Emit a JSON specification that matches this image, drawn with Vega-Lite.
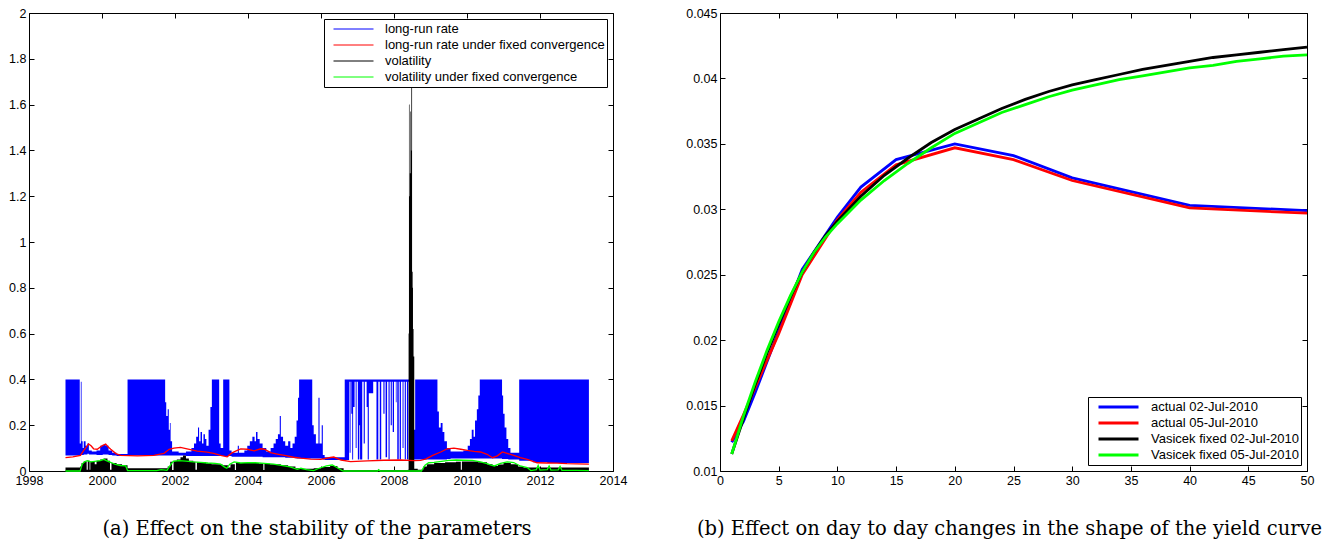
{
  "$schema": "https://vega.github.io/schema/vega-lite/v6.json",
  "background": "white",
  "padding": {"left": 8, "top": 6, "right": 4, "bottom": 0},
  "spacing": 57,
  "config": {
    "view": {"stroke": "black", "strokeWidth": 1},
    "axis": {"domain": false, "grid": false, "tickColor": "black", "tickSize": -5, "tickWidth": 1, "labelFont": "Liberation Sans", "labelFontSize": 12.5, "labelColor": "black", "labelPadding": 8, "labelFlush": false, "labelOverlap": false},
    "legend": {"strokeColor": "black", "fillColor": "white", "padding": 2, "symbolType": "stroke", "symbolSize": 1600, "symbolStrokeWidth": 1, "clipHeight": 16, "rowPadding": 0, "symbolOffset": 7, "labelOffset": 11, "labelFont": "Liberation Sans", "labelFontSize": 13, "labelColor": "black", "labelLimit": 500, "offset": 6}
  },
  "resolve": {"scale": {"color": "independent", "x": "independent", "y": "independent"}, "legend": {"color": "independent"}},
  "datasets": {
    "blue": [
      {"t": 1999.00, "lo": 0.068, "hi": 0.40}, {"t": 1999.39, "lo": 0.070, "hi": 0.12}, {"t": 1999.42, "lo": 0.070, "hi": 0.39}, {"t": 1999.44, "lo": 0.070, "hi": 0.13}, {"t": 1999.47, "lo": 0.070, "hi": 0.10}, {"t": 1999.50, "lo": 0.072, "hi": 0.13}, {"t": 1999.55, "lo": 0.072, "hi": 0.11}, {"t": 1999.60, "lo": 0.075, "hi": 0.12}, {"t": 1999.64, "lo": 0.072, "hi": 0.09}, {"t": 1999.72, "lo": 0.072, "hi": 0.085}, {"t": 1999.85, "lo": 0.070, "hi": 0.09}, {"t": 1999.95, "lo": 0.070, "hi": 0.11}, {"t": 2000.02, "lo": 0.072, "hi": 0.115}, {"t": 2000.10, "lo": 0.072, "hi": 0.11}, {"t": 2000.18, "lo": 0.070, "hi": 0.09}, {"t": 2000.28, "lo": 0.068, "hi": 0.08}, {"t": 2000.40, "lo": 0.066, "hi": 0.074},
      {"t": 2000.70, "lo": 0.068, "hi": 0.40}, {"t": 2001.73, "lo": 0.068, "hi": 0.30}, {"t": 2001.76, "lo": 0.068, "hi": 0.24}, {"t": 2001.80, "lo": 0.068, "hi": 0.27}, {"t": 2001.83, "lo": 0.068, "hi": 0.18}, {"t": 2001.86, "lo": 0.068, "hi": 0.21}, {"t": 2001.88, "lo": 0.068, "hi": 0.13}, {"t": 2001.92, "lo": 0.068, "hi": 0.085}, {"t": 2002.10, "lo": 0.068, "hi": 0.08}, {"t": 2002.30, "lo": 0.065, "hi": 0.085}, {"t": 2002.45, "lo": 0.065, "hi": 0.10}, {"t": 2002.52, "lo": 0.065, "hi": 0.12}, {"t": 2002.58, "lo": 0.065, "hi": 0.15}, {"t": 2002.63, "lo": 0.065, "hi": 0.19}, {"t": 2002.66, "lo": 0.065, "hi": 0.13}, {"t": 2002.70, "lo": 0.065, "hi": 0.17}, {"t": 2002.74, "lo": 0.065, "hi": 0.12}, {"t": 2002.78, "lo": 0.065, "hi": 0.16}, {"t": 2002.82, "lo": 0.065, "hi": 0.14}, {"t": 2002.86, "lo": 0.065, "hi": 0.11}, {"t": 2002.92, "lo": 0.065, "hi": 0.18}, {"t": 2002.97, "lo": 0.065, "hi": 0.28},
      {"t": 2003.01, "lo": 0.065, "hi": 0.40}, {"t": 2003.21, "lo": 0.065, "hi": 0.12}, {"t": 2003.25, "lo": 0.065, "hi": 0.10}, {"t": 2003.32, "lo": 0.065, "hi": 0.40}, {"t": 2003.49, "lo": 0.065, "hi": 0.09}, {"t": 2003.55, "lo": 0.062, "hi": 0.08}, {"t": 2003.72, "lo": 0.062, "hi": 0.11}, {"t": 2003.75, "lo": 0.062, "hi": 0.08}, {"t": 2003.90, "lo": 0.062, "hi": 0.09}, {"t": 2003.98, "lo": 0.062, "hi": 0.11}, {"t": 2004.05, "lo": 0.062, "hi": 0.13}, {"t": 2004.12, "lo": 0.062, "hi": 0.15}, {"t": 2004.18, "lo": 0.062, "hi": 0.13}, {"t": 2004.22, "lo": 0.062, "hi": 0.17}, {"t": 2004.26, "lo": 0.062, "hi": 0.14}, {"t": 2004.32, "lo": 0.062, "hi": 0.12}, {"t": 2004.40, "lo": 0.060, "hi": 0.10}, {"t": 2004.50, "lo": 0.060, "hi": 0.085}, {"t": 2004.62, "lo": 0.060, "hi": 0.10}, {"t": 2004.70, "lo": 0.060, "hi": 0.12}, {"t": 2004.76, "lo": 0.060, "hi": 0.14}, {"t": 2004.82, "lo": 0.060, "hi": 0.16}, {"t": 2004.87, "lo": 0.060, "hi": 0.24}, {"t": 2004.90, "lo": 0.060, "hi": 0.15}, {"t": 2004.96, "lo": 0.060, "hi": 0.13}, {"t": 2005.02, "lo": 0.058, "hi": 0.11}, {"t": 2005.10, "lo": 0.058, "hi": 0.13}, {"t": 2005.16, "lo": 0.058, "hi": 0.10}, {"t": 2005.22, "lo": 0.058, "hi": 0.12}, {"t": 2005.28, "lo": 0.056, "hi": 0.15}, {"t": 2005.33, "lo": 0.055, "hi": 0.22}, {"t": 2005.37, "lo": 0.055, "hi": 0.32},
      {"t": 2005.40, "lo": 0.055, "hi": 0.40}, {"t": 2005.76, "lo": 0.055, "hi": 0.20}, {"t": 2005.80, "lo": 0.055, "hi": 0.16}, {"t": 2005.86, "lo": 0.055, "hi": 0.12}, {"t": 2005.93, "lo": 0.055, "hi": 0.32}, {"t": 2005.96, "lo": 0.055, "hi": 0.12}, {"t": 2006.02, "lo": 0.052, "hi": 0.20}, {"t": 2006.05, "lo": 0.050, "hi": 0.07}, {"t": 2006.10, "lo": 0.048, "hi": 0.06},
      {"t": 2006.65, "lo": 0.048, "hi": 0.40}, {"t": 2006.77, "lo": 0.39, "hi": 0.40}, {"t": 2006.785, "lo": 0.08, "hi": 0.40}, {"t": 2006.81, "lo": 0.39, "hi": 0.40}, {"t": 2006.83, "lo": 0.25, "hi": 0.40}, {"t": 2006.855, "lo": 0.05, "hi": 0.40}, {"t": 2006.88, "lo": 0.28, "hi": 0.40}, {"t": 2006.92, "lo": 0.39, "hi": 0.40}, {"t": 2006.95, "lo": 0.10, "hi": 0.40}, {"t": 2006.975, "lo": 0.39, "hi": 0.40}, {"t": 2007.01, "lo": 0.05, "hi": 0.40}, {"t": 2007.05, "lo": 0.20, "hi": 0.40}, {"t": 2007.07, "lo": 0.05, "hi": 0.40}, {"t": 2007.13, "lo": 0.39, "hi": 0.40}, {"t": 2007.17, "lo": 0.12, "hi": 0.40}, {"t": 2007.20, "lo": 0.39, "hi": 0.40}, {"t": 2007.25, "lo": 0.28, "hi": 0.40}, {"t": 2007.28, "lo": 0.05, "hi": 0.40}, {"t": 2007.31, "lo": 0.34, "hi": 0.40}, {"t": 2007.43, "lo": 0.39, "hi": 0.40}, {"t": 2007.52, "lo": 0.05, "hi": 0.40}, {"t": 2007.57, "lo": 0.39, "hi": 0.40}, {"t": 2007.61, "lo": 0.05, "hi": 0.40}, {"t": 2007.65, "lo": 0.39, "hi": 0.40}, {"t": 2007.71, "lo": 0.25, "hi": 0.40}, {"t": 2007.74, "lo": 0.39, "hi": 0.40}, {"t": 2007.77, "lo": 0.06, "hi": 0.40}, {"t": 2007.81, "lo": 0.39, "hi": 0.40}, {"t": 2007.85, "lo": 0.05, "hi": 0.40}, {"t": 2007.88, "lo": 0.39, "hi": 0.40}, {"t": 2007.91, "lo": 0.20, "hi": 0.40}, {"t": 2007.94, "lo": 0.39, "hi": 0.40}, {"t": 2007.965, "lo": 0.17, "hi": 0.40}, {"t": 2008.00, "lo": 0.39, "hi": 0.40}, {"t": 2008.05, "lo": 0.30, "hi": 0.40}, {"t": 2008.07, "lo": 0.39, "hi": 0.40}, {"t": 2008.09, "lo": 0.05, "hi": 0.40}, {"t": 2008.13, "lo": 0.39, "hi": 0.40}, {"t": 2008.155, "lo": 0.05, "hi": 0.40}, {"t": 2008.19, "lo": 0.39, "hi": 0.40}, {"t": 2008.235, "lo": 0.10, "hi": 0.40}, {"t": 2008.26, "lo": 0.39, "hi": 0.40}, {"t": 2008.295, "lo": 0.05, "hi": 0.40}, {"t": 2008.325, "lo": 0.39, "hi": 0.40}, {"t": 2008.355, "lo": 0.05, "hi": 0.40}, {"t": 2008.39, "lo": 0.39, "hi": 0.40}, {"t": 2008.41, "lo": 0.05, "hi": 0.40}, {"t": 2008.43, "lo": 0.05, "hi": 0.18},
      {"t": 2008.58, "lo": 0.05, "hi": 0.40}, {"t": 2009.19, "lo": 0.05, "hi": 0.26}, {"t": 2009.23, "lo": 0.05, "hi": 0.19}, {"t": 2009.28, "lo": 0.05, "hi": 0.21}, {"t": 2009.33, "lo": 0.05, "hi": 0.17}, {"t": 2009.38, "lo": 0.05, "hi": 0.13}, {"t": 2009.45, "lo": 0.052, "hi": 0.10}, {"t": 2009.55, "lo": 0.055, "hi": 0.085}, {"t": 2009.90, "lo": 0.055, "hi": 0.09}, {"t": 2010.02, "lo": 0.055, "hi": 0.11}, {"t": 2010.08, "lo": 0.055, "hi": 0.14}, {"t": 2010.13, "lo": 0.055, "hi": 0.18}, {"t": 2010.18, "lo": 0.055, "hi": 0.15}, {"t": 2010.22, "lo": 0.055, "hi": 0.22}, {"t": 2010.27, "lo": 0.055, "hi": 0.27}, {"t": 2010.31, "lo": 0.055, "hi": 0.33},
      {"t": 2010.35, "lo": 0.055, "hi": 0.40}, {"t": 2010.96, "lo": 0.052, "hi": 0.33}, {"t": 2010.99, "lo": 0.052, "hi": 0.25}, {"t": 2011.03, "lo": 0.052, "hi": 0.19}, {"t": 2011.08, "lo": 0.052, "hi": 0.14}, {"t": 2011.13, "lo": 0.050, "hi": 0.10}, {"t": 2011.19, "lo": 0.050, "hi": 0.08},
      {"t": 2011.43, "lo": 0.045, "hi": 0.40}, {"t": 2011.80, "lo": 0.038, "hi": 0.40}, {"t": 2012.20, "lo": 0.035, "hi": 0.40}, {"t": 2013.34, "lo": 0.035, "hi": 0.40}
    ],
    "black": [
      {"t": 1999.00, "v": 0.015}, {"t": 1999.40, "v": 0.02}, {"t": 1999.44, "v": 0.035}, {"t": 1999.50, "v": 0.042}, {"t": 1999.58, "v": 0.005}, {"t": 1999.61, "v": 0.045}, {"t": 1999.66, "v": 0.005}, {"t": 1999.68, "v": 0.04}, {"t": 1999.80, "v": 0.03}, {"t": 1999.85, "v": 0.045}, {"t": 1999.95, "v": 0.05}, {"t": 2000.05, "v": 0.055}, {"t": 2000.15, "v": 0.045}, {"t": 2000.22, "v": 0.005}, {"t": 2000.26, "v": 0.035}, {"t": 2000.40, "v": 0.03}, {"t": 2000.55, "v": 0.025}, {"t": 2000.70, "v": 0.012},
      {"t": 2001.80, "v": 0.02}, {"t": 2001.87, "v": 0.04}, {"t": 2001.92, "v": 0.004}, {"t": 2001.96, "v": 0.045}, {"t": 2002.05, "v": 0.05}, {"t": 2002.15, "v": 0.06}, {"t": 2002.22, "v": 0.068}, {"t": 2002.30, "v": 0.055}, {"t": 2002.38, "v": 0.045}, {"t": 2002.50, "v": 0.04}, {"t": 2002.56, "v": 0.005}, {"t": 2002.60, "v": 0.038}, {"t": 2002.85, "v": 0.034}, {"t": 2003.00, "v": 0.03}, {"t": 2003.30, "v": 0.025}, {"t": 2003.45, "v": 0.015}, {"t": 2003.52, "v": 0.03}, {"t": 2003.64, "v": 0.004}, {"t": 2003.67, "v": 0.035}, {"t": 2004.00, "v": 0.035}, {"t": 2004.30, "v": 0.033}, {"t": 2004.42, "v": 0.004}, {"t": 2004.45, "v": 0.032}, {"t": 2004.60, "v": 0.03}, {"t": 2004.90, "v": 0.025}, {"t": 2005.10, "v": 0.02}, {"t": 2005.30, "v": 0.012}, {"t": 2005.50, "v": 0.01}, {"t": 2005.80, "v": 0.012}, {"t": 2006.00, "v": 0.018}, {"t": 2006.25, "v": 0.022}, {"t": 2006.45, "v": 0.012}, {"t": 2006.62, "v": 0.004},
      {"t": 2008.38, "v": 0.006}, {"t": 2008.40, "v": 0.60}, {"t": 2008.41, "v": 1.60}, {"t": 2008.425, "v": 1.20}, {"t": 2008.435, "v": 1.30}, {"t": 2008.45, "v": 1.57}, {"t": 2008.465, "v": 1.40}, {"t": 2008.475, "v": 1.75}, {"t": 2008.495, "v": 0.87}, {"t": 2008.51, "v": 0.80}, {"t": 2008.52, "v": 0.62}, {"t": 2008.535, "v": 0.5}, {"t": 2008.555, "v": 0.01},
      {"t": 2008.65, "v": 0.005}, {"t": 2008.80, "v": 0.02}, {"t": 2008.90, "v": 0.03}, {"t": 2009.10, "v": 0.035}, {"t": 2009.40, "v": 0.038}, {"t": 2009.70, "v": 0.04}, {"t": 2009.83, "v": 0.005}, {"t": 2009.86, "v": 0.042}, {"t": 2010.00, "v": 0.042}, {"t": 2010.30, "v": 0.038}, {"t": 2010.55, "v": 0.03}, {"t": 2010.70, "v": 0.022}, {"t": 2010.85, "v": 0.028}, {"t": 2011.00, "v": 0.035}, {"t": 2011.20, "v": 0.03}, {"t": 2011.40, "v": 0.02}, {"t": 2011.55, "v": 0.015}, {"t": 2013.34, "v": 0.015}
    ],
    "fixed": [
      {"series": "long-run rate under fixed convergence", "t": 1999.00, "v": 0.058}, {"series": "long-run rate under fixed convergence", "t": 1999.20, "v": 0.062}, {"series": "long-run rate under fixed convergence", "t": 1999.41, "v": 0.068}, {"series": "long-run rate under fixed convergence", "t": 1999.50, "v": 0.09}, {"series": "long-run rate under fixed convergence", "t": 1999.55, "v": 0.10}, {"series": "long-run rate under fixed convergence", "t": 1999.63, "v": 0.118}, {"series": "long-run rate under fixed convergence", "t": 1999.70, "v": 0.11}, {"series": "long-run rate under fixed convergence", "t": 1999.77, "v": 0.097}, {"series": "long-run rate under fixed convergence", "t": 1999.87, "v": 0.095}, {"series": "long-run rate under fixed convergence", "t": 2000.00, "v": 0.11}, {"series": "long-run rate under fixed convergence", "t": 2000.10, "v": 0.118}, {"series": "long-run rate under fixed convergence", "t": 2000.17, "v": 0.105}, {"series": "long-run rate under fixed convergence", "t": 2000.24, "v": 0.095}, {"series": "long-run rate under fixed convergence", "t": 2000.38, "v": 0.076}, {"series": "long-run rate under fixed convergence", "t": 2000.51, "v": 0.068}, {"series": "long-run rate under fixed convergence", "t": 2000.97, "v": 0.066}, {"series": "long-run rate under fixed convergence", "t": 2001.42, "v": 0.068}, {"series": "long-run rate under fixed convergence", "t": 2001.70, "v": 0.077}, {"series": "long-run rate under fixed convergence", "t": 2001.84, "v": 0.095}, {"series": "long-run rate under fixed convergence", "t": 2001.97, "v": 0.10}, {"series": "long-run rate under fixed convergence", "t": 2002.15, "v": 0.103}, {"series": "long-run rate under fixed convergence", "t": 2002.33, "v": 0.097}, {"series": "long-run rate under fixed convergence", "t": 2002.61, "v": 0.087}, {"series": "long-run rate under fixed convergence", "t": 2002.88, "v": 0.082}, {"series": "long-run rate under fixed convergence", "t": 2003.06, "v": 0.077}, {"series": "long-run rate under fixed convergence", "t": 2003.25, "v": 0.068}, {"series": "long-run rate under fixed convergence", "t": 2003.43, "v": 0.062}, {"series": "long-run rate under fixed convergence", "t": 2003.55, "v": 0.078}, {"series": "long-run rate under fixed convergence", "t": 2003.66, "v": 0.087}, {"series": "long-run rate under fixed convergence", "t": 2003.80, "v": 0.097}, {"series": "long-run rate under fixed convergence", "t": 2003.98, "v": 0.095}, {"series": "long-run rate under fixed convergence", "t": 2004.17, "v": 0.088}, {"series": "long-run rate under fixed convergence", "t": 2004.35, "v": 0.097}, {"series": "long-run rate under fixed convergence", "t": 2004.45, "v": 0.095}, {"series": "long-run rate under fixed convergence", "t": 2004.62, "v": 0.08}, {"series": "long-run rate under fixed convergence", "t": 2004.80, "v": 0.074}, {"series": "long-run rate under fixed convergence", "t": 2005.00, "v": 0.068}, {"series": "long-run rate under fixed convergence", "t": 2005.25, "v": 0.060}, {"series": "long-run rate under fixed convergence", "t": 2005.45, "v": 0.056}, {"series": "long-run rate under fixed convergence", "t": 2005.72, "v": 0.052}, {"series": "long-run rate under fixed convergence", "t": 2005.99, "v": 0.051}, {"series": "long-run rate under fixed convergence", "t": 2006.26, "v": 0.059}, {"series": "long-run rate under fixed convergence", "t": 2006.35, "v": 0.061}, {"series": "long-run rate under fixed convergence", "t": 2006.55, "v": 0.048}, {"series": "long-run rate under fixed convergence", "t": 2006.81, "v": 0.041}, {"series": "long-run rate under fixed convergence", "t": 2007.27, "v": 0.044}, {"series": "long-run rate under fixed convergence", "t": 2007.72, "v": 0.047}, {"series": "long-run rate under fixed convergence", "t": 2008.18, "v": 0.048}, {"series": "long-run rate under fixed convergence", "t": 2008.55, "v": 0.045}, {"series": "long-run rate under fixed convergence", "t": 2008.73, "v": 0.046}, {"series": "long-run rate under fixed convergence", "t": 2008.88, "v": 0.053}, {"series": "long-run rate under fixed convergence", "t": 2009.06, "v": 0.068}, {"series": "long-run rate under fixed convergence", "t": 2009.28, "v": 0.083}, {"series": "long-run rate under fixed convergence", "t": 2009.46, "v": 0.097}, {"series": "long-run rate under fixed convergence", "t": 2009.64, "v": 0.10}, {"series": "long-run rate under fixed convergence", "t": 2009.83, "v": 0.095}, {"series": "long-run rate under fixed convergence", "t": 2010.01, "v": 0.09}, {"series": "long-run rate under fixed convergence", "t": 2010.19, "v": 0.086}, {"series": "long-run rate under fixed convergence", "t": 2010.37, "v": 0.083}, {"series": "long-run rate under fixed convergence", "t": 2010.55, "v": 0.073}, {"series": "long-run rate under fixed convergence", "t": 2010.70, "v": 0.058}, {"series": "long-run rate under fixed convergence", "t": 2010.83, "v": 0.066}, {"series": "long-run rate under fixed convergence", "t": 2010.97, "v": 0.083}, {"series": "long-run rate under fixed convergence", "t": 2011.10, "v": 0.077}, {"series": "long-run rate under fixed convergence", "t": 2011.28, "v": 0.068}, {"series": "long-run rate under fixed convergence", "t": 2011.46, "v": 0.058}, {"series": "long-run rate under fixed convergence", "t": 2011.65, "v": 0.051}, {"series": "long-run rate under fixed convergence", "t": 2011.92, "v": 0.036}, {"series": "long-run rate under fixed convergence", "t": 2012.19, "v": 0.035}, {"series": "long-run rate under fixed convergence", "t": 2012.47, "v": 0.034}, {"series": "long-run rate under fixed convergence", "t": 2012.74, "v": 0.032}, {"series": "long-run rate under fixed convergence", "t": 2013.02, "v": 0.031}, {"series": "long-run rate under fixed convergence", "t": 2013.34, "v": 0.030},
      {"series": "volatility under fixed convergence", "t": 1999.00, "v": 0.0}, {"series": "volatility under fixed convergence", "t": 1999.40, "v": 0.0}, {"series": "volatility under fixed convergence", "t": 1999.46, "v": 0.03}, {"series": "volatility under fixed convergence", "t": 1999.52, "v": 0.04}, {"series": "volatility under fixed convergence", "t": 1999.60, "v": 0.045}, {"series": "volatility under fixed convergence", "t": 1999.70, "v": 0.04}, {"series": "volatility under fixed convergence", "t": 1999.80, "v": 0.042}, {"series": "volatility under fixed convergence", "t": 1999.95, "v": 0.045}, {"series": "volatility under fixed convergence", "t": 2000.05, "v": 0.051}, {"series": "volatility under fixed convergence", "t": 2000.12, "v": 0.045}, {"series": "volatility under fixed convergence", "t": 2000.25, "v": 0.037}, {"series": "volatility under fixed convergence", "t": 2000.35, "v": 0.03}, {"series": "volatility under fixed convergence", "t": 2000.50, "v": 0.024}, {"series": "volatility under fixed convergence", "t": 2000.65, "v": 0.022}, {"series": "volatility under fixed convergence", "t": 2000.70, "v": 0.002}, {"series": "volatility under fixed convergence", "t": 2001.50, "v": 0.002}, {"series": "volatility under fixed convergence", "t": 2001.62, "v": 0.006}, {"series": "volatility under fixed convergence", "t": 2001.78, "v": 0.003}, {"series": "volatility under fixed convergence", "t": 2001.85, "v": 0.02}, {"series": "volatility under fixed convergence", "t": 2001.95, "v": 0.042}, {"series": "volatility under fixed convergence", "t": 2002.10, "v": 0.045}, {"series": "volatility under fixed convergence", "t": 2002.30, "v": 0.043}, {"series": "volatility under fixed convergence", "t": 2002.50, "v": 0.04}, {"series": "volatility under fixed convergence", "t": 2002.70, "v": 0.038}, {"series": "volatility under fixed convergence", "t": 2002.90, "v": 0.035}, {"series": "volatility under fixed convergence", "t": 2003.10, "v": 0.033}, {"series": "volatility under fixed convergence", "t": 2003.25, "v": 0.03}, {"series": "volatility under fixed convergence", "t": 2003.35, "v": 0.018}, {"series": "volatility under fixed convergence", "t": 2003.42, "v": 0.012}, {"series": "volatility under fixed convergence", "t": 2003.50, "v": 0.03}, {"series": "volatility under fixed convergence", "t": 2003.62, "v": 0.04}, {"series": "volatility under fixed convergence", "t": 2003.80, "v": 0.035}, {"series": "volatility under fixed convergence", "t": 2004.00, "v": 0.037}, {"series": "volatility under fixed convergence", "t": 2004.20, "v": 0.036}, {"series": "volatility under fixed convergence", "t": 2004.45, "v": 0.033}, {"series": "volatility under fixed convergence", "t": 2004.70, "v": 0.03}, {"series": "volatility under fixed convergence", "t": 2004.99, "v": 0.022}, {"series": "volatility under fixed convergence", "t": 2005.15, "v": 0.018}, {"series": "volatility under fixed convergence", "t": 2005.35, "v": 0.007}, {"series": "volatility under fixed convergence", "t": 2005.45, "v": 0.012}, {"series": "volatility under fixed convergence", "t": 2005.60, "v": 0.006}, {"series": "volatility under fixed convergence", "t": 2005.80, "v": 0.002}, {"series": "volatility under fixed convergence", "t": 2005.95, "v": 0.012}, {"series": "volatility under fixed convergence", "t": 2006.15, "v": 0.022}, {"series": "volatility under fixed convergence", "t": 2006.31, "v": 0.026}, {"series": "volatility under fixed convergence", "t": 2006.45, "v": 0.014}, {"series": "volatility under fixed convergence", "t": 2006.58, "v": 0.002}, {"series": "volatility under fixed convergence", "t": 2006.62, "v": 0.0}, {"series": "volatility under fixed convergence", "t": 2007.55, "v": 0.0}, {"series": "volatility under fixed convergence", "t": 2007.58, "v": 0.006}, {"series": "volatility under fixed convergence", "t": 2007.62, "v": 0.0}, {"series": "volatility under fixed convergence", "t": 2008.75, "v": 0.0}, {"series": "volatility under fixed convergence", "t": 2008.85, "v": 0.025}, {"series": "volatility under fixed convergence", "t": 2008.95, "v": 0.036}, {"series": "volatility under fixed convergence", "t": 2009.10, "v": 0.038}, {"series": "volatility under fixed convergence", "t": 2009.30, "v": 0.042}, {"series": "volatility under fixed convergence", "t": 2009.50, "v": 0.046}, {"series": "volatility under fixed convergence", "t": 2009.70, "v": 0.048}, {"series": "volatility under fixed convergence", "t": 2009.90, "v": 0.047}, {"series": "volatility under fixed convergence", "t": 2010.15, "v": 0.046}, {"series": "volatility under fixed convergence", "t": 2010.37, "v": 0.04}, {"series": "volatility under fixed convergence", "t": 2010.55, "v": 0.032}, {"series": "volatility under fixed convergence", "t": 2010.64, "v": 0.027}, {"series": "volatility under fixed convergence", "t": 2010.75, "v": 0.022}, {"series": "volatility under fixed convergence", "t": 2010.92, "v": 0.033}, {"series": "volatility under fixed convergence", "t": 2011.10, "v": 0.04}, {"series": "volatility under fixed convergence", "t": 2011.28, "v": 0.037}, {"series": "volatility under fixed convergence", "t": 2011.46, "v": 0.022}, {"series": "volatility under fixed convergence", "t": 2011.65, "v": 0.015}, {"series": "volatility under fixed convergence", "t": 2011.75, "v": 0.002}, {"series": "volatility under fixed convergence", "t": 2011.90, "v": 0.006}, {"series": "volatility under fixed convergence", "t": 2011.95, "v": 0.024}, {"series": "volatility under fixed convergence", "t": 2012.00, "v": 0.004}, {"series": "volatility under fixed convergence", "t": 2012.20, "v": 0.006}, {"series": "volatility under fixed convergence", "t": 2012.25, "v": 0.022}, {"series": "volatility under fixed convergence", "t": 2012.30, "v": 0.004}, {"series": "volatility under fixed convergence", "t": 2012.50, "v": 0.005}, {"series": "volatility under fixed convergence", "t": 2012.55, "v": 0.02}, {"series": "volatility under fixed convergence", "t": 2012.60, "v": 0.003}, {"series": "volatility under fixed convergence", "t": 2013.00, "v": 0.003}, {"series": "volatility under fixed convergence", "t": 2013.34, "v": 0.002}
    ],
    "curves": [
      {"series": "actual 02-Jul-2010", "m": 1, "v": 0.0122}, {"series": "actual 02-Jul-2010", "m": 2, "v": 0.0138}, {"series": "actual 02-Jul-2010", "m": 3, "v": 0.0160}, {"series": "actual 02-Jul-2010", "m": 5, "v": 0.0207}, {"series": "actual 02-Jul-2010", "m": 7, "v": 0.0254}, {"series": "actual 02-Jul-2010", "m": 10, "v": 0.0294}, {"series": "actual 02-Jul-2010", "m": 12, "v": 0.0317}, {"series": "actual 02-Jul-2010", "m": 15, "v": 0.0338}, {"series": "actual 02-Jul-2010", "m": 20, "v": 0.0350}, {"series": "actual 02-Jul-2010", "m": 25, "v": 0.0341}, {"series": "actual 02-Jul-2010", "m": 30, "v": 0.0324}, {"series": "actual 02-Jul-2010", "m": 40, "v": 0.0303}, {"series": "actual 02-Jul-2010", "m": 50, "v": 0.0299},
      {"series": "actual 05-Jul-2010", "m": 1, "v": 0.0123}, {"series": "actual 05-Jul-2010", "m": 2, "v": 0.0143}, {"series": "actual 05-Jul-2010", "m": 3, "v": 0.0164}, {"series": "actual 05-Jul-2010", "m": 5, "v": 0.0205}, {"series": "actual 05-Jul-2010", "m": 7, "v": 0.0250}, {"series": "actual 05-Jul-2010", "m": 10, "v": 0.0292}, {"series": "actual 05-Jul-2010", "m": 12, "v": 0.0313}, {"series": "actual 05-Jul-2010", "m": 15, "v": 0.0334}, {"series": "actual 05-Jul-2010", "m": 20, "v": 0.0347}, {"series": "actual 05-Jul-2010", "m": 25, "v": 0.0338}, {"series": "actual 05-Jul-2010", "m": 30, "v": 0.0322}, {"series": "actual 05-Jul-2010", "m": 40, "v": 0.0301}, {"series": "actual 05-Jul-2010", "m": 50, "v": 0.0297},
      {"series": "Vasicek fixed 02-Jul-2010", "m": 1, "v": 0.0113}, {"series": "Vasicek fixed 02-Jul-2010", "m": 2, "v": 0.0140}, {"series": "Vasicek fixed 02-Jul-2010", "m": 3, "v": 0.0166}, {"series": "Vasicek fixed 02-Jul-2010", "m": 4, "v": 0.0190}, {"series": "Vasicek fixed 02-Jul-2010", "m": 5, "v": 0.0212}, {"series": "Vasicek fixed 02-Jul-2010", "m": 6, "v": 0.0233}, {"series": "Vasicek fixed 02-Jul-2010", "m": 7, "v": 0.0252}, {"series": "Vasicek fixed 02-Jul-2010", "m": 8, "v": 0.0267}, {"series": "Vasicek fixed 02-Jul-2010", "m": 9, "v": 0.0280}, {"series": "Vasicek fixed 02-Jul-2010", "m": 10, "v": 0.0291}, {"series": "Vasicek fixed 02-Jul-2010", "m": 12, "v": 0.0310}, {"series": "Vasicek fixed 02-Jul-2010", "m": 14, "v": 0.0326}, {"series": "Vasicek fixed 02-Jul-2010", "m": 16, "v": 0.0339}, {"series": "Vasicek fixed 02-Jul-2010", "m": 18, "v": 0.0351}, {"series": "Vasicek fixed 02-Jul-2010", "m": 20, "v": 0.0361}, {"series": "Vasicek fixed 02-Jul-2010", "m": 22, "v": 0.0369}, {"series": "Vasicek fixed 02-Jul-2010", "m": 24, "v": 0.0377}, {"series": "Vasicek fixed 02-Jul-2010", "m": 26, "v": 0.0384}, {"series": "Vasicek fixed 02-Jul-2010", "m": 28, "v": 0.0390}, {"series": "Vasicek fixed 02-Jul-2010", "m": 30, "v": 0.0395}, {"series": "Vasicek fixed 02-Jul-2010", "m": 32, "v": 0.0399}, {"series": "Vasicek fixed 02-Jul-2010", "m": 34, "v": 0.0403}, {"series": "Vasicek fixed 02-Jul-2010", "m": 36, "v": 0.0407}, {"series": "Vasicek fixed 02-Jul-2010", "m": 38, "v": 0.0410}, {"series": "Vasicek fixed 02-Jul-2010", "m": 40, "v": 0.0413}, {"series": "Vasicek fixed 02-Jul-2010", "m": 42, "v": 0.0416}, {"series": "Vasicek fixed 02-Jul-2010", "m": 44, "v": 0.0418}, {"series": "Vasicek fixed 02-Jul-2010", "m": 46, "v": 0.0420}, {"series": "Vasicek fixed 02-Jul-2010", "m": 48, "v": 0.0422}, {"series": "Vasicek fixed 02-Jul-2010", "m": 50, "v": 0.0424},
      {"series": "Vasicek fixed 05-Jul-2010", "m": 1, "v": 0.0113}, {"series": "Vasicek fixed 05-Jul-2010", "m": 2, "v": 0.0142}, {"series": "Vasicek fixed 05-Jul-2010", "m": 3, "v": 0.0168}, {"series": "Vasicek fixed 05-Jul-2010", "m": 4, "v": 0.0192}, {"series": "Vasicek fixed 05-Jul-2010", "m": 5, "v": 0.0214}, {"series": "Vasicek fixed 05-Jul-2010", "m": 6, "v": 0.0234}, {"series": "Vasicek fixed 05-Jul-2010", "m": 7, "v": 0.0252}, {"series": "Vasicek fixed 05-Jul-2010", "m": 8, "v": 0.0267}, {"series": "Vasicek fixed 05-Jul-2010", "m": 9, "v": 0.0279}, {"series": "Vasicek fixed 05-Jul-2010", "m": 10, "v": 0.0289}, {"series": "Vasicek fixed 05-Jul-2010", "m": 12, "v": 0.0307}, {"series": "Vasicek fixed 05-Jul-2010", "m": 14, "v": 0.0322}, {"series": "Vasicek fixed 05-Jul-2010", "m": 16, "v": 0.0335}, {"series": "Vasicek fixed 05-Jul-2010", "m": 18, "v": 0.0347}, {"series": "Vasicek fixed 05-Jul-2010", "m": 20, "v": 0.0358}, {"series": "Vasicek fixed 05-Jul-2010", "m": 22, "v": 0.0366}, {"series": "Vasicek fixed 05-Jul-2010", "m": 24, "v": 0.0374}, {"series": "Vasicek fixed 05-Jul-2010", "m": 26, "v": 0.0380}, {"series": "Vasicek fixed 05-Jul-2010", "m": 28, "v": 0.0386}, {"series": "Vasicek fixed 05-Jul-2010", "m": 30, "v": 0.0391}, {"series": "Vasicek fixed 05-Jul-2010", "m": 32, "v": 0.0395}, {"series": "Vasicek fixed 05-Jul-2010", "m": 34, "v": 0.0399}, {"series": "Vasicek fixed 05-Jul-2010", "m": 36, "v": 0.0402}, {"series": "Vasicek fixed 05-Jul-2010", "m": 38, "v": 0.0405}, {"series": "Vasicek fixed 05-Jul-2010", "m": 40, "v": 0.0408}, {"series": "Vasicek fixed 05-Jul-2010", "m": 42, "v": 0.0410}, {"series": "Vasicek fixed 05-Jul-2010", "m": 44, "v": 0.0413}, {"series": "Vasicek fixed 05-Jul-2010", "m": 46, "v": 0.0415}, {"series": "Vasicek fixed 05-Jul-2010", "m": 48, "v": 0.0417}, {"series": "Vasicek fixed 05-Jul-2010", "m": 50, "v": 0.0418}
    ]
  },
  "hconcat": [
    {
      "width": 584,
      "height": 458,
      "title": {"text": "(a) Effect on the stability of the parameters", "orient": "bottom", "anchor": "middle", "frame": "group", "font": "DejaVu Serif", "fontSize": 19.5, "fontWeight": "normal", "color": "black", "offset": 33, "dx": -4},
      "layer": [
        {
          "data": {"name": "blue"},
          "mark": {"type": "area", "color": "#0000ff", "interpolate": "step-after"},
          "encoding": {
            "x": {"field": "t", "type": "quantitative", "scale": {"domain": [1998, 2014], "nice": false, "zero": false}, "axis": {"orient": "bottom", "values": [1998, 2000, 2002, 2004, 2006, 2008, 2010, 2012, 2014], "format": "d", "title": null}},
            "y": {"field": "hi", "type": "quantitative", "scale": {"domain": [0, 2], "nice": false}, "axis": {"orient": "left", "values": [0, 0.2, 0.4, 0.6, 0.8, 1, 1.2, 1.4, 1.6, 1.8, 2], "format": "~g", "title": null}},
            "y2": {"field": "lo"}
          }
        },
        {
          "data": {"name": "black"},
          "mark": {"type": "area", "color": "#000000", "interpolate": "step-after"},
          "encoding": {
            "x": {"field": "t", "type": "quantitative", "axis": {"orient": "top", "values": [1998, 2000, 2002, 2004, 2006, 2008, 2010, 2012, 2014], "labels": false, "title": null}},
            "y": {"field": "v", "type": "quantitative", "axis": {"orient": "right", "values": [0, 0.2, 0.4, 0.6, 0.8, 1, 1.2, 1.4, 1.6, 1.8, 2], "labels": false, "title": null}},
            "y2": {"datum": 0}
          }
        },
        {
          "data": {"name": "fixed"},
          "mark": {"type": "line", "strokeWidth": 1.3},
          "encoding": {
            "x": {"field": "t", "type": "quantitative", "axis": null},
            "y": {"field": "v", "type": "quantitative", "axis": null},
            "color": {"field": "series", "type": "nominal", "scale": {"domain": ["long-run rate", "long-run rate under fixed convergence", "volatility", "volatility under fixed convergence"], "range": ["#0000ff", "#ff0000", "#000000", "#00ff00"]}, "legend": {"orient": "top-right", "title": null, "symbolStrokeWidth": 1}}
          }
        }
      ],
      "resolve": {"axis": {"x": "independent", "y": "independent"}}
    },
    {
      "width": 587,
      "height": 458,
      "title": {"text": "(b) Effect on day to day changes in the shape of the yield curve", "orient": "bottom", "anchor": "middle", "frame": "group", "font": "DejaVu Serif", "fontSize": 19.5, "fontWeight": "normal", "color": "black", "offset": 33, "dx": -4},
      "layer": [
        {
          "data": {"name": "curves"},
          "mark": {"type": "line", "strokeWidth": 2.8},
          "encoding": {
            "x": {"field": "m", "type": "quantitative", "scale": {"domain": [0, 50], "nice": false}, "axis": {"orient": "bottom", "values": [0, 5, 10, 15, 20, 25, 30, 35, 40, 45, 50], "title": null}},
            "y": {"field": "v", "type": "quantitative", "scale": {"domain": [0.01, 0.045], "nice": false, "zero": false}, "axis": {"orient": "left", "values": [0.01, 0.015, 0.02, 0.025, 0.03, 0.035, 0.04, 0.045], "format": "~g", "title": null}},
            "color": {"field": "series", "type": "nominal", "scale": {"domain": ["actual 02-Jul-2010", "actual 05-Jul-2010", "Vasicek fixed 02-Jul-2010", "Vasicek fixed 05-Jul-2010"], "range": ["#0000ff", "#ff0000", "#000000", "#00ff00"]}, "legend": {"orient": "bottom-right", "title": null, "symbolStrokeWidth": 3}}
          }
        },
        {
          "data": {"name": "curves"},
          "mark": {"type": "line", "opacity": 0},
          "encoding": {
            "x": {"field": "m", "type": "quantitative", "axis": {"orient": "top", "values": [0, 5, 10, 15, 20, 25, 30, 35, 40, 45, 50], "labels": false, "title": null}},
            "y": {"field": "v", "type": "quantitative", "axis": {"orient": "right", "values": [0.01, 0.015, 0.02, 0.025, 0.03, 0.035, 0.04, 0.045], "labels": false, "title": null}},
            "detail": {"field": "series"}
          }
        }
      ],
      "resolve": {"axis": {"x": "independent", "y": "independent"}}
    }
  ]
}
